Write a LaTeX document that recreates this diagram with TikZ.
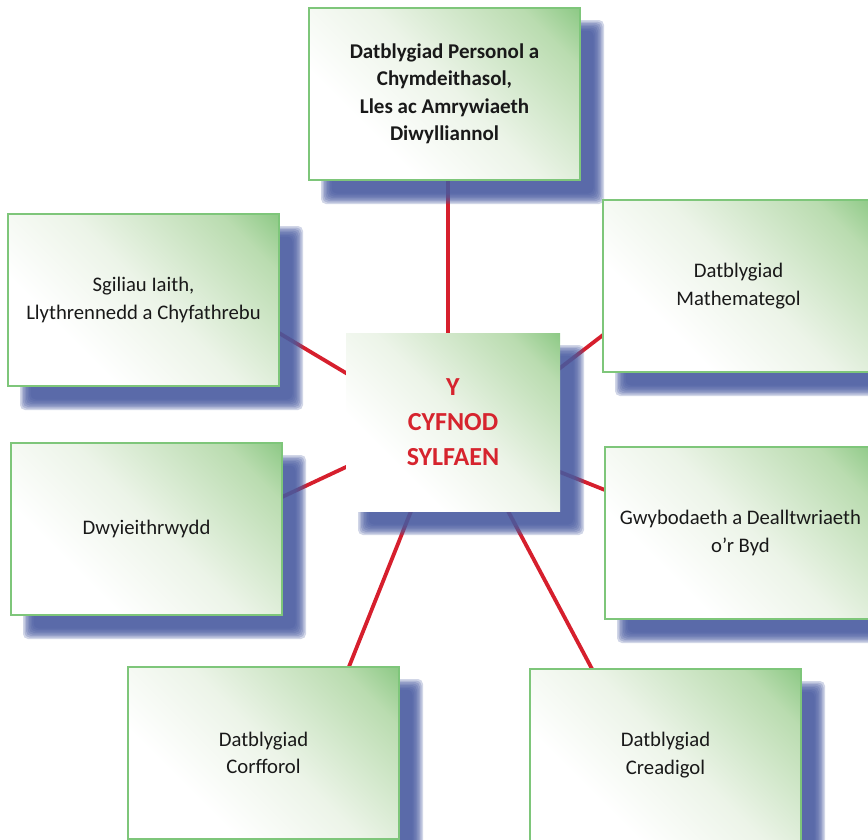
\documentclass[tikz,border=0pt]{standalone}
\usepackage{fontspec}
\setmainfont{Carlito}
\usetikzlibrary{calc}
\definecolor{gtop}{RGB}{72,172,68}
\definecolor{gmid}{RGB}{186,220,176}
\definecolor{glight}{RGB}{236,244,232}
\definecolor{bordergreen}{RGB}{126,198,122}
\definecolor{linered}{RGB}{214,31,45}
\definecolor{textred}{RGB}{214,36,46}
\definecolor{shadowcol}{RGB}{72,90,160}
\pgfdeclarehorizontalshading{boxgrad}{100bp}{color(0bp)=(white); color(32bp)=(white); color(52bp)=(glight); color(76bp)=(gmid); color(100bp)=(gtop)}
\pgfdeclarelayer{linelayer}
\pgfdeclarelayer{shadowlayer}
\pgfsetlayers{linelayer,shadowlayer,main}
\newcommand\dropshadow[1]{%
  \foreach \j in {0,...,7}{%
    \fill[shadowcol, opacity=0.25, rounded corners=5pt]
      ($(#1.north west)+({12+1.5*\j},{12+1.5*\j})$) rectangle
      ($(#1.south east)+({24-1.5*\j},{24-1.5*\j})$);
  }}
\tikzset{
  card/.style={draw=bordergreen, line width=1.3pt, shade, shading=boxgrad, shading angle=45,
    minimum width=271pt, minimum height=172pt, anchor=north west, inner sep=0pt, outer sep=0pt,
    align=center, font=\fontsize{20.7}{27.5}\selectfont, text=black!90},
  hub/.style={card, draw=none, minimum width=214pt, minimum height=178pt,
    font=\fontsize{26}{35}\selectfont\bfseries, text=textred},
  link/.style={draw=linered, line width=3.8pt, shorten <=-3pt, shorten >=-3pt}
}
\begin{document}
\begin{tikzpicture}[x=1pt,y=-1pt]
\useasboundingbox (0,0) rectangle (868,839);
\clip (0,0) rectangle (868,839);
% boxes
\node[card, font=\fontsize{21}{27.5}\selectfont\bfseries] (t) at (309,8)
  {Datblygiad Personol a\\Chymdeithasol,\\Lles ac Amrywiaeth\\Diwylliannol};
\node[card] (l1) at (8,214) {Sgiliau Iaith,\\Llythrennedd a Chyfathrebu};
\node[card] (r1) at (603,200) {Datblygiad\\Mathemategol};
\node[card] (l2) at (11,443) {Dwyieithrwydd};
\node[card] (r2) at (605,447) {Gwybodaeth a Dealltwriaeth\\o’r Byd};
\node[card] (bl) at (128,667) {Datblygiad\\Corfforol};
\node[card] (br) at (530,669) {Datblygiad\\Creadigol};
\node[hub] (c) at (346,333) {Y\\CYFNOD\\SYLFAEN};
% shadows
\begin{pgfonlayer}{shadowlayer}
\dropshadow{t}\dropshadow{l1}\dropshadow{r1}\dropshadow{l2}
\dropshadow{r2}\dropshadow{bl}\dropshadow{br}\dropshadow{c}
\end{pgfonlayer}
% connectors
\begin{pgfonlayer}{linelayer}
\draw[link] ($(t.south west)!0.513!(t.south east)$) -- ($(c.north west)!0.477!(c.north east)$);
\draw[link] ($(l1.north east)!0.692!(l1.south east)$) -- ($(c.north west)!0.225!(c.south west)$);
\draw[link] ($(c.north east)!0.197!(c.south east)$) -- ($(r1.north west)!0.785!(r1.south west)$);
\draw[link] ($(l2.north east)!0.314!(l2.south east)$) -- ($(c.north west)!0.753!(c.south west)$);
\draw[link] ($(c.north east)!0.781!(c.south east)$) -- ($(r2.north west)!0.25!(r2.south west)$);
\draw[link] ($(c.south west)!0.304!(c.south east)$) -- ($(bl.north west)!0.815!(bl.north east)$);
\draw[link] ($(c.south west)!0.757!(c.south east)$) -- ($(br.north west)!0.229!(br.north east)$);
\end{pgfonlayer}
\end{tikzpicture}
\end{document}
